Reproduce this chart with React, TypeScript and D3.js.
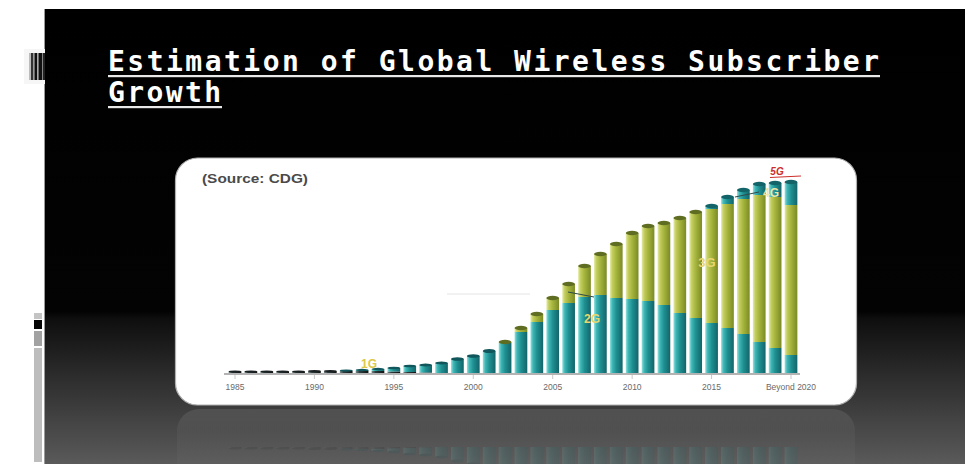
import React from "react";
import * as d3 from "d3";

const years: number[] = [
  1985, 1986, 1987, 1988, 1989, 1990, 1991, 1992, 1993, 1994, 1995, 1996,
  1997, 1998, 1999, 2000, 2001, 2002, 2003, 2004, 2005, 2006, 2007, 2008,
  2009, 2010, 2011, 2012, 2013, 2014, 2015, 2016, 2017, 2018, 2019, 2020,
];
const g1: number[] = [
  1.5, 1.5, 1.5, 1.5, 1.5, 2, 2, 2, 2, 2, 1.5, 1, 0.5, 0, 0, 0, 0, 0, 0, 0,
  0, 0, 0, 0, 0, 0, 0, 0, 0, 0, 0, 0, 0, 0, 0, 0,
];
const g2: number[] = [
  0, 0, 0, 0, 0, 0, 0, 0.5, 1, 2, 3.5, 6, 7.5, 10, 14, 17, 22, 30, 41, 51,
  63, 70, 76, 78, 75, 74, 72, 68, 60, 55, 50, 45, 39, 31, 25, 18,
];
const g3: number[] = [
  0, 0, 0, 0, 0, 0, 0, 0, 0, 0, 0, 0, 0, 0, 0, 0, 0, 1, 4, 8, 12, 19, 31, 41,
  54, 66, 75, 82, 95, 106, 114, 124, 135, 147, 151, 150,
];
const g4: number[] = [
  0, 0, 0, 0, 0, 0, 0, 0, 0, 0, 0, 0, 0, 0, 0, 0, 0, 0, 0, 0, 0, 0, 0, 0, 0,
  0, 0, 0, 0, 0, 3, 7, 9, 11, 14, 22,
];
const g5: number[] = [
  0, 0, 0, 0, 0, 0, 0, 0, 0, 0, 0, 0, 0, 0, 0, 0, 0, 0, 0, 0, 0, 0, 0, 0, 0,
  0, 0, 0, 0, 0, 0, 0, 0, 0, 0, 1,
];
const seriesKeys = ["1G", "2G", "3G", "4G", "5G"];
const tickYears: number[] = [1985, 1990, 1995, 2000, 2005, 2010, 2015, 2020];
const tickLabels: string[] = ["1985", "1990", "1995", "2000", "2005", "2010", "2015", "Beyond 2020"];

const W = 965;
const H = 464;

const rows = years.map((y, i) => ({
  year: y,
  "1G": g1[i],
  "2G": g2[i],
  "3G": g3[i],
  "4G": g4[i],
  "5G": g5[i],
}));

const step = (791 - 235) / 35;
const x = d3
  .scaleBand<number>()
  .domain(years)
  .range([235 - step / 2, 791 + step / 2])
  .paddingInner(0.2)
  .paddingOuter(0.1);
const y = d3.scaleLinear().domain([0, 200]).range([373, 173]);
const stack = d3.stack<any>().keys(seriesKeys);
const stacked = stack(rows);

const gradId: Record<string, string> = {
  "1G": "grad1g",
  "2G": "grad2g",
  "3G": "grad3g",
  "4G": "grad4g",
  "5G": "grad5g",
};
const capColor: Record<string, string> = {
  "1G": "#1a1f22",
  "2G": "#10565b",
  "3G": "#5f6d22",
  "4G": "#136468",
  "5G": "#b02020",
};

function Bars() {
  const bw = x.bandwidth();
  return (
    <g>
      {stacked.map((s) => (
        <g key={s.key}>
          {s.map((d, i) => {
            const h = y(d[0]) - y(d[1]);
            if (h <= 0) return null;
            return (
              <rect
                key={i}
                x={x(years[i])}
                y={y(d[1])}
                width={bw}
                height={h}
                fill={`url(#${gradId[s.key]})`}
              />
            );
          })}
        </g>
      ))}
      {rows.map((r, i) => {
        let topKey = "1G";
        let total = 0;
        seriesKeys.forEach((k) => {
          const v = (r as any)[k];
          if (v > 0 && k !== "5G") topKey = k;
          total += v;
        });
        return (
          <ellipse
            key={i}
            cx={(x(r.year) as number) + bw / 2}
            cy={y(total)}
            rx={bw / 2}
            ry={Math.min(2.2, 1 + total / 20)}
            fill={capColor[topKey]}
          />
        );
      })}
    </g>
  );
}

export default function App() {
  const bw = x.bandwidth();
  return (
    <svg
      width={W}
      height={H}
      style={{ position: "absolute", left: 0, top: 0, display: "block" }}
    >
      <defs>
        <linearGradient id="bgGrad" gradientUnits="userSpaceOnUse" x1="0" y1="9" x2="0" y2="464">
          <stop offset="0" stopColor="#000" />
          <stop offset="0.665" stopColor="#030303" />
          <stop offset="0.68" stopColor="#0e0e0e" />
          <stop offset="1" stopColor="#5a5a5a" />
        </linearGradient>
        <linearGradient id="grad1g" x1="0" x2="1" y1="0" y2="0">
          <stop offset="0" stopColor="#7a8a8a" />
          <stop offset="0.3" stopColor="#2e3c3e" />
          <stop offset="1" stopColor="#111" />
        </linearGradient>
        <linearGradient id="grad2g" x1="0" x2="1" y1="0" y2="0">
          <stop offset="0" stopColor="#8fe3df" />
          <stop offset="0.2" stopColor="#3fb5b5" />
          <stop offset="0.5" stopColor="#1f9092" />
          <stop offset="1" stopColor="#136469" />
        </linearGradient>
        <linearGradient id="grad4g" x1="0" x2="1" y1="0" y2="0">
          <stop offset="0" stopColor="#8fe3df" />
          <stop offset="0.2" stopColor="#3fb5b5" />
          <stop offset="0.5" stopColor="#1f9092" />
          <stop offset="1" stopColor="#136469" />
        </linearGradient>
        <linearGradient id="grad3g" x1="0" x2="1" y1="0" y2="0">
          <stop offset="0" stopColor="#e6eba6" />
          <stop offset="0.2" stopColor="#c2cd5e" />
          <stop offset="0.5" stopColor="#a5b43c" />
          <stop offset="1" stopColor="#7b8a25" />
        </linearGradient>
        <linearGradient id="grad5g" x1="0" x2="1" y1="0" y2="0">
          <stop offset="0" stopColor="#f08080" />
          <stop offset="1" stopColor="#b02020" />
        </linearGradient>
        <linearGradient id="reflGrad" x1="0" x2="0" y1="0" y2="1">
          <stop offset="0" stopColor="#fff" stopOpacity="0.1" />
          <stop offset="0.25" stopColor="#fff" stopOpacity="0.04" />
          <stop offset="1" stopColor="#fff" stopOpacity="0" />
        </linearGradient>
        <clipPath id="reflClip">
          <rect x="0" y="407" width={W} height="60" />
        </clipPath>
      </defs>

      {/* page */}
      <rect x="0" y="0" width={W} height={H} fill="#fff" />
      <rect x="45" y="9" width={W - 45} height={H - 9} fill="url(#bgGrad)" />
      <line x1="44.5" y1="9" x2="44.5" y2={H} stroke="#9a9a9a" strokeWidth="1" />

      {/* left barcode decoration */}
      <rect x="24" y="49" width="21" height="35" fill="#f6f6f6" />
      {[
        [29, 2, "#bbb"],
        [31, 2, "#333"],
        [33, 1.5, "#999"],
        [34.5, 2.5, "#111"],
        [37, 1.5, "#aaa"],
        [38.5, 3.5, "#111"],
        [42, 1, "#888"],
        [43, 2, "#222"],
      ].map(([xx, ww, c], i) => (
        <rect key={i} x={xx as number} y="53" width={ww as number} height="27" fill={c as string} />
      ))}
      {/* left bottom decoration */}
      <rect x="34" y="313" width="8" height="6" fill="#c4c4c4" />
      <rect x="34" y="320" width="8" height="9" fill="#050505" />
      <rect x="34" y="331" width="8" height="15" fill="#a2a2a2" />
      <rect x="34" y="348" width="8" height="114" fill="#bdbdbd" />

      {/* title */}
      <g
        fill="#fff"
        style={{ fontFamily: "'DejaVu Sans Mono', 'Liberation Mono', monospace", fontWeight: 700 }}
      >
        <text x="108" y="71" fontSize="28" textLength="771" lengthAdjust="spacing">
          Estimation of Global Wireless Subscriber
        </text>
        <text x="108" y="102" fontSize="28" textLength="113" lengthAdjust="spacing">
          Growth
        </text>
      </g>
      <rect x="108" y="75" width="772" height="2.2" fill="#e8e8e8" />
      <rect x="108" y="106" width="114" height="2.2" fill="#e8e8e8" />

      {/* reflection */}
      <g clipPath="url(#reflClip)">
        <rect x="177" y="409" width="678" height="90" rx="22" fill="url(#reflGrad)" />
        <g transform="translate(0,820) scale(1,-1)" opacity="0.12">
          <Bars />
        </g>
      </g>

      {/* card */}
      <rect
        x="175.5"
        y="158"
        width="681"
        height="247"
        rx="22"
        fill="#fff"
        stroke="#b0b0b0"
        strokeWidth="1.2"
      />

      <text
        x="202"
        y="183"
        fontSize="12.5"
        fontFamily="Arial, 'Liberation Sans', sans-serif"
        fontWeight="600"
        fill="#4a4a4a"
        textLength="106"
        lengthAdjust="spacingAndGlyphs"
      >
        (Source: CDG)
      </text>

      {/* faint guide lines */}
      <line x1="447" y1="294" x2="530" y2="294" stroke="#e4e4e4" strokeWidth="1" />

      <Bars />

      {/* axis */}
      <line x1="224" y1="374" x2="800" y2="374" stroke="#9a9a9a" strokeWidth="1.5" />
      {tickYears.map((ty, i) => {
        const cx = (x(ty) as number) + bw / 2;
        return (
          <g key={ty}>
            <line x1={cx} y1="375" x2={cx} y2="379" stroke="#c8c8c8" strokeWidth="1" />
            <text
              x={cx}
              y="390"
              textAnchor="middle"
              fontSize="8.5"
              fontFamily="Arial, 'Liberation Sans', sans-serif"
              fill="#6a6a6a"
            >
              {tickLabels[i]}
            </text>
          </g>
        );
      })}

      {/* generation labels */}
      <g fontFamily="Arial, 'Liberation Sans', sans-serif" fontWeight="700">
        <text x="369" y="368" fontSize="12" textAnchor="middle" fill="#dcc84a">
          1G
        </text>
        <line x1="568" y1="292" x2="594" y2="297" stroke="#2d4a4a" strokeWidth="1" />
        <text x="592" y="323" fontSize="12" textAnchor="middle" fill="#e6d86e">
          2G
        </text>
        <text x="707" y="267" fontSize="13" textAnchor="middle" fill="#e8d770">
          3G
        </text>
        <line x1="735" y1="197" x2="759" y2="192" stroke="#2d4a4a" strokeWidth="1" />
        <text x="771" y="197" fontSize="12" textAnchor="middle" fill="#eee6a8">
          4G
        </text>
        <text x="777" y="175" fontSize="10" textAnchor="middle" fill="#cc2f2a" fontStyle="italic">
          5G
        </text>
        <line x1="770" y1="177.5" x2="801" y2="176" stroke="#cc2f2a" strokeWidth="1" />
      </g>
    </svg>
  );
}
